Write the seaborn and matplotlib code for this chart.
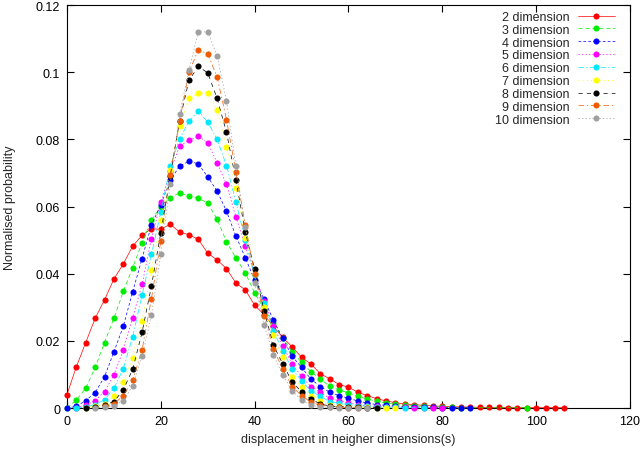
import matplotlib
matplotlib.use("Agg")
import matplotlib.pyplot as plt
import pandas as pd
import seaborn as sns

# displacement bins (only bins with counts are written, so series differ)
x_2d = list(range(0, 108, 2))
x_3d = list(range(0, 86, 2)) + [98]
x_4d = list(range(0, 88, 2))
x_5d = list(range(2, 82, 2))
x_6d = list(range(2, 74, 2)) + [76]
x_7d = list(range(4, 72, 2))
x_8d = list(range(4, 68, 2))
x_9d = list(range(8, 64, 2))
x_10d = list(range(6, 66, 2))

p_2d = [0.0040, 0.0123, 0.0195, 0.0267, 0.0322, 0.0384, 0.0429, 0.0482, 0.0514, 0.0534,
        0.0532, 0.0547, 0.0524, 0.0516, 0.0502, 0.0461, 0.0441, 0.0415, 0.0372, 0.0352,
        0.0306, 0.0278, 0.0243, 0.0210, 0.0182, 0.0151, 0.0131, 0.0102, 0.0087, 0.0070,
        0.0062, 0.0047, 0.0037, 0.0028, 0.0021, 0.0016, 0.0012, 0.0010, 0.0008, 0.0006,
        0.0005, 0.0004, 0.0003, 0.0003, 0.0002, 0.0002, 0.0002, 0.0001, 0.0001, 0.0001,
        0.0001, 0.0001, 0.0001, 0.0001]
p_3d = [0.0, 0.0024, 0.0059, 0.0121, 0.0195, 0.0267, 0.0347, 0.0418, 0.0492, 0.0559,
        0.0600, 0.0626, 0.0641, 0.0631, 0.0624, 0.0611, 0.0562, 0.0495, 0.0447, 0.0403,
        0.0342, 0.0295, 0.0253, 0.0208, 0.0168, 0.0136, 0.0108, 0.0086, 0.0065, 0.0054,
        0.0045, 0.0035, 0.0027, 0.0020, 0.0015, 0.0011, 0.0008, 0.0006, 0.0005, 0.0004,
        0.0003, 0.0002, 0.0001, 0.0001]
p_4d = [0.0, 0.0005, 0.0022, 0.0046, 0.0093, 0.0167, 0.0243, 0.0346, 0.0445, 0.0545,
        0.0605, 0.0678, 0.0720, 0.0735, 0.0727, 0.0688, 0.0646, 0.0586, 0.0512, 0.0448,
        0.0380, 0.0324, 0.0262, 0.0207, 0.0154, 0.0121, 0.0086, 0.0064, 0.0047, 0.0037,
        0.0029, 0.0021, 0.0015, 0.0010, 0.0008, 0.0006, 0.0004, 0.0003, 0.0002, 0.0002,
        0.0001, 0.0001, 0.0001, 0.0001]
p_5d = [0.0001, 0.0008, 0.0022, 0.0049, 0.0098, 0.0173, 0.0269, 0.0368, 0.0504, 0.0613,
        0.0705, 0.0780, 0.0797, 0.0809, 0.0790, 0.0730, 0.0666, 0.0569, 0.0482, 0.0400,
        0.0320, 0.0245, 0.0185, 0.0131, 0.0094, 0.0064, 0.0047, 0.0029, 0.0022, 0.0015,
        0.0010, 0.0007, 0.0005, 0.0004, 0.0003, 0.0002, 0.0001, 0.0001, 0.0001, 0.0001]
p_6d = [0.0, 0.0003, 0.0010, 0.0025, 0.0059, 0.0117, 0.0212, 0.0336, 0.0458, 0.0583,
        0.0720, 0.0801, 0.0854, 0.0884, 0.0851, 0.0800, 0.0722, 0.0614, 0.0500, 0.0395,
        0.0314, 0.0230, 0.0170, 0.0116, 0.0081, 0.0051, 0.0035, 0.0019, 0.0015, 0.0010,
        0.0007, 0.0005, 0.0003, 0.0002, 0.0002, 0.0001, 0.0001]
p_7d = [0.0001, 0.0005, 0.0012, 0.0037, 0.0078, 0.0150, 0.0260, 0.0411, 0.0560, 0.0710,
        0.0839, 0.0922, 0.0938, 0.0938, 0.0886, 0.0776, 0.0656, 0.0507, 0.0400, 0.0302,
        0.0217, 0.0151, 0.0091, 0.0064, 0.0037, 0.0022, 0.0009, 0.0005, 0.0004, 0.0003,
        0.0002, 0.0001, 0.0001, 0.0001]
p_8d = [0.0, 0.0003, 0.0009, 0.0019, 0.0054, 0.0115, 0.0225, 0.0363, 0.0522, 0.0690,
        0.0855, 0.0976, 0.1017, 0.0998, 0.0922, 0.0821, 0.0679, 0.0524, 0.0413, 0.0290,
        0.0187, 0.0131, 0.0078, 0.0048, 0.0027, 0.0012, 0.0006, 0.0004, 0.0003, 0.0002,
        0.0001, 0.0001]
p_9d = [0.0005, 0.0012, 0.0037, 0.0083, 0.0173, 0.0326, 0.0497, 0.0695, 0.0854, 0.1000,
        0.1067, 0.1054, 0.0986, 0.0859, 0.0703, 0.0545, 0.0398, 0.0274, 0.0175, 0.0116,
        0.0064, 0.0037, 0.0017, 0.0008, 0.0004, 0.0002, 0.0001, 0.0001]
p_10d = [0.0, 0.0003, 0.0007, 0.0022, 0.0066, 0.0154, 0.0276, 0.0458, 0.0666, 0.0874,
         0.1007, 0.1120, 0.1120, 0.1049, 0.0915, 0.0720, 0.0540, 0.0373, 0.0247, 0.0158,
         0.0098, 0.0051, 0.0024, 0.0009, 0.0003, 0.0002, 0.0001, 0.0001, 0.0001, 0.0001]

labels = ["2 dimension", "3 dimension", "4 dimension", "5 dimension", "6 dimension",
          "7 dimension", "8 dimension", "9 dimension", "10 dimension"]
xs = [x_2d, x_3d, x_4d, x_5d, x_6d, x_7d, x_8d, x_9d, x_10d]
ps = [p_2d, p_3d, p_4d, p_5d, p_6d, p_7d, p_8d, p_9d, p_10d]

colors = ["#ff0000", "#00ee00", "#0000ff", "#ff00ff", "#00e8ff",
          "#ffff00", "#000000", "#f05a00", "#a0a0a0"]
dash_styles = ["", (3, 2), (2, 1.5), (1, 1.5), (4, 1.5, 1, 1.5),
               (1, 2), (3, 3), (4, 2, 1, 2), (1, 1.5)]

y_ticks = [0, 0.02, 0.04, 0.06, 0.08, 0.1, 0.12]
y_tick_labels = ["0", "0.02", "0.04", "0.06", "0.08", "0.1", "0.12"]
x_ticks = [0, 20, 40, 60, 80, 100, 120]

df = pd.concat([pd.DataFrame({"displacement": x, "probability": p, "dimension": lab})
                for x, p, lab in zip(xs, ps, labels)], ignore_index=True)

sns.set_style("ticks")
plt.rcParams["font.family"] = ["Liberation Sans", "DejaVu Sans"]
plt.rcParams["lines.scale_dashes"] = False

fig = plt.figure(figsize=(6.41, 4.52), dpi=100)
ax = fig.add_axes([0.1045, 0.0951, 0.8783, 0.8916])

sns.lineplot(data=df, x="displacement", y="probability", hue="dimension",
             style="dimension", hue_order=labels, style_order=labels,
             palette=colors, dashes=dash_styles, markers=["o"] * 9,
             markersize=4.4, markeredgewidth=0, linewidth=0.5,
             estimator=None, legend=False, clip_on=False, ax=ax)

ax.set_xlim(0, 120)
ax.set_ylim(0, 0.12)
ax.set_xticks(x_ticks)
ax.set_yticks(y_ticks)
ax.set_yticklabels(y_tick_labels)
ax.tick_params(direction="in", top=True, right=True, length=5, width=0.8,
               labelsize=9, pad=5, colors="black")
for sp in ax.spines.values():
    sp.set_color("black")
    sp.set_linewidth(0.8)
    sp.set_zorder(0.5)

ax.set_xlabel("displacement in heigher dimensions(s)", fontsize=9, labelpad=4)
ax.set_ylabel("Normalised probability", fontsize=9, labelpad=14)

leg = ax.legend(handles=ax.lines[:9], labels=labels, loc="upper right",
                bbox_to_anchor=(0.973, 0.985), frameon=False, fontsize=9,
                markerfirst=False, handlelength=2.96, handletextpad=0.64,
                labelspacing=0.065, borderpad=0, borderaxespad=0, numpoints=1)
# right-align the labels like gnuplot does
for col in leg._legend_handle_box.get_children():
    col.align = "right"

fig.savefig("out.png", dpi=100)
